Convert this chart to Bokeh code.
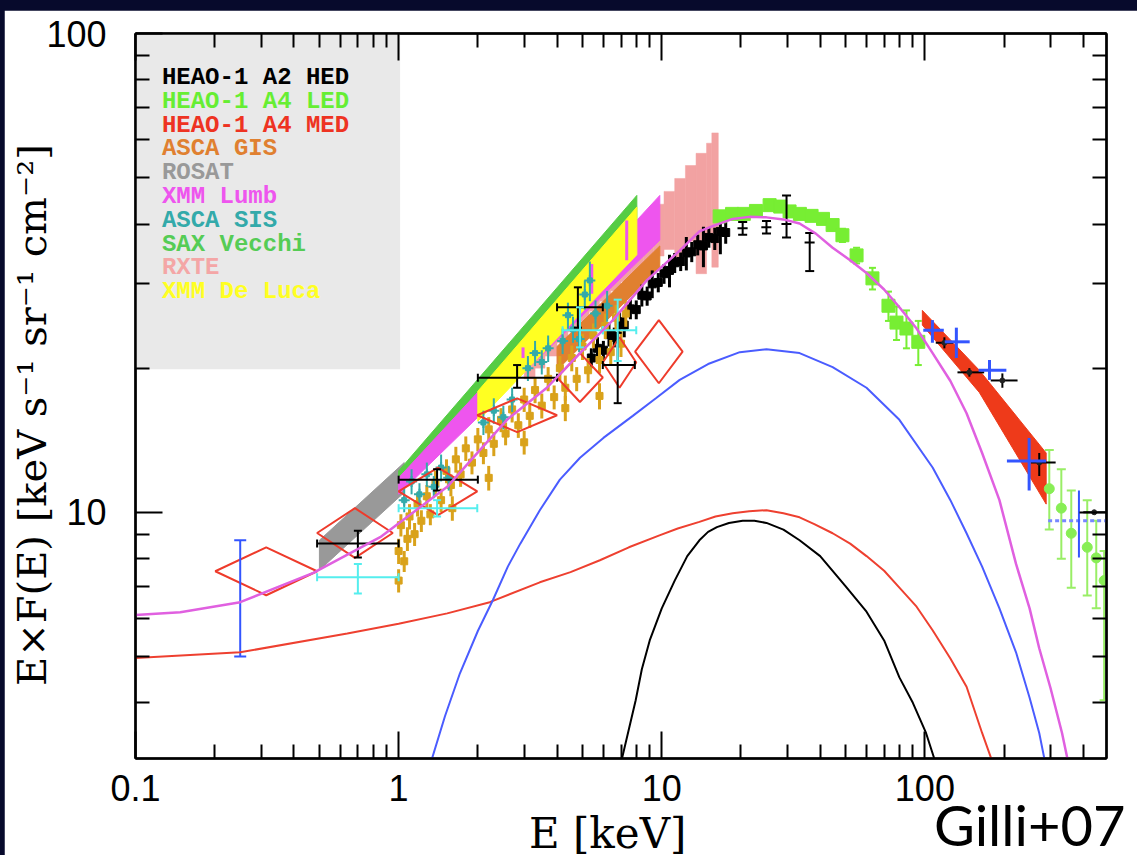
import numpy as np
from bokeh.plotting import figure
from bokeh.layouts import column
from bokeh.models import FixedTicker, LogAxis, CustomJSTickFormatter, BoxAnnotation, Div
from bokeh.core.properties import value
from bokeh.embed import file_html
from bokeh.resources import INLINE

# ---------------- model components (E in keV, E*F(E) in keV s^-1 sr^-1 cm^-2) ----------------
total_E = [0.1, 0.148, 0.25, 0.474, 0.851, 1.53, 2.04, 2.58, 3.66, 4.89, 6.52, 8.77, 11.7, 13.9,
           15.6, 18.6, 21.5, 25.0, 29.0, 33.4, 38.5, 44.6, 52.0, 60.0, 70.0, 80.0, 93.0, 107.0,
           125.0, 144.0, 165.0, 192.0, 222.0, 250.0, 272.0, 300.0, 332.0, 360.0]
total_F = [6.1, 6.18, 6.49, 7.47, 8.87, 11.3, 13.5, 15.6, 18.2, 21.5, 25.2, 30.5, 35.2, 38.6,
           39.6, 41.0, 41.4, 41.3, 40.9, 40.1, 38.2, 35.7, 33.6, 31.6, 29.2, 26.8, 24.2, 21.5,
           18.8, 16.1, 13.3, 10.6, 7.8, 6.3, 5.2, 4.3, 3.46, 2.8]

thin_E = [1.3, 1.5, 1.71, 2.0, 2.28, 2.6, 2.9, 3.44, 4.1, 4.89, 6.0, 7.76, 9.5, 11.7, 15.0, 19.8,
          25.0, 33.4, 44.6, 60.0, 80.0, 107.0, 125.0, 144.0, 165.0, 192.0, 222.0, 250.0, 272.0, 290.0]
thin_F = [2.9, 3.75, 4.61, 5.65, 6.55, 7.7, 8.6, 10.1, 11.7, 13.0, 14.3, 15.9, 17.3, 18.9, 20.4,
          21.6, 21.9, 21.5, 20.1, 18.2, 15.6, 12.4, 10.6, 9.04, 7.7, 6.3, 5.1, 4.1, 3.46, 2.9]

thick_E = [0.1, 0.25, 0.638, 1.0, 1.53, 2.22, 3.44, 4.5, 5.82, 7.5, 9.8, 11.5, 13.9, 16.0, 18.6,
           21.5, 25.0, 29.0, 33.4, 38.0, 44.6, 52.0, 60.0, 70.0, 80.0, 93.0, 107.0, 125.0, 144.0,
           165.0, 185.0]
thick_F = [4.96, 5.1, 5.58, 5.85, 6.15, 6.49, 7.14, 7.5, 7.94, 8.45, 8.95, 9.25, 9.55, 9.8, 9.95,
           10.05, 10.1, 9.95, 9.76, 9.45, 9.04, 8.6, 8.1, 7.55, 6.96, 6.35, 5.67, 4.95, 4.32,
           3.46, 2.9]

refl_E = [6.9, 7.96, 8.4, 9.0, 10.0, 11.2, 12.5, 13.9, 15.0, 16.2, 18.0, 20.3, 22.5, 25.0, 29.0,
          33.4, 40.0, 50.0, 60.0, 70.0, 80.0, 90.0, 101.0, 112.0]
refl_F = [2.9, 4.05, 4.7, 5.4, 6.3, 7.2, 8.1, 8.74, 9.1, 9.31, 9.5, 9.6, 9.6, 9.5, 9.2, 8.74,
          8.1, 7.0, 6.2, 5.4, 4.52, 4.0, 3.46, 2.9]

# ---------------- power-law bands ----------------
rosat_E, rosat_top, rosat_bot = [0.5, 1.05], [8.74, 12.7], [7.57, 11.0]
sax_E, sax_top, sax_bot = [1.0, 8.04], [12.2, 45.9], [10.9, 40.0]
lumb_E, lumb_top, lumb_bot = [1.0, 9.83], [11.8, 45.9], [10.9, 37.0]
deluca_E, deluca_top, deluca_bot = [2.0, 8.04], [17.9, 43.4], [15.5, 34.5]
gis_E, gis_top, gis_bot = [4.0, 9.83], [22.2, 36.0], [19.8, 32.5]

# RXTE binned spectrum
rxte_lo = [3.0, 3.3, 3.6, 4.0, 4.4, 4.8, 5.3, 5.8, 6.4, 7.0, 7.7, 8.5, 9.3, 10.2, 11.2, 12.3, 13.5, 14.8, 15.5]
rxte_hi = [3.3, 3.6, 4.0, 4.4, 4.8, 5.3, 5.8, 6.4, 7.0, 7.7, 8.5, 9.3, 10.2, 11.2, 12.3, 13.5, 14.8, 15.5, 16.4]
rxte_top = [20.9, 22.2, 23.6, 25.3, 26.8, 28.5, 30.4, 32.3, 34.4, 36.5, 39.0, 41.5, 44.0, 46.8, 49.8, 53.0, 56.2, 59.0, 62.0]
rxte_bot = [19.0, 20.0, 21.2, 22.6, 23.8, 25.0, 26.3, 27.6, 29.0, 30.3, 31.6, 33.0, 34.3, 35.4, 34.0, 36.8, 31.5, 37.8, 32.5]

# XMM Lumb individual error bars
lumbpt_E = [2.97, 5.42, 7.36]
lumbpt_lo = [21.0, 28.6, 33.6]
lumbpt_hi = [22.1, 33.0, 40.7]

# HEAO-1 A2 HED
hed_E = [5.4, 5.7, 6.0, 6.3, 6.6, 6.9, 7.2, 7.6, 8.0, 8.4, 8.8, 9.2, 9.7, 10.2, 10.7, 11.2, 11.8,
         12.4, 13.0, 13.7, 14.4, 15.1, 15.9, 16.7, 17.5]
hed_F = [21.0, 22.0, 21.8, 23.5, 23.2, 25.0, 24.6, 26.6, 26.5, 28.4, 28.3, 30.0, 30.2, 31.5, 32.0,
         33.2, 33.4, 34.8, 35.0, 36.2, 36.0, 37.5, 37.3, 38.6, 38.4]
hed_dF = [1.0, 1.2, 1.0, 1.3, 1.1, 1.2, 1.4, 1.3, 1.2, 1.5, 1.3, 2.0, 1.4, 1.5, 2.5, 1.6, 1.5, 2.8,
          1.7, 1.8, 3.5, 1.8, 2.0, 4.0, 2.0]
hedpk_E = [20.3, 25.0, 29.8, 36.5]
hedpk_F = [39.2, 39.4, 40.0, 36.6]
hedpk_lo = [38.0, 38.2, 37.5, 31.9]
hedpk_hi = [40.4, 40.6, 45.9, 38.3]
hedpk_Elo = [19.4, 23.9, 28.5, 34.9]
hedpk_Ehi = [21.2, 26.1, 31.1, 38.1]

# soft-band points
gold_E = [1.00, 1.00, 1.02, 1.05, 1.08, 1.10, 1.15, 1.18, 1.22, 1.28, 1.32, 1.38, 1.45, 1.52, 1.58,
          1.65, 1.72, 1.80, 1.90, 2.00, 2.10, 2.20, 2.30, 2.45, 2.55, 2.70, 2.85, 3.00, 3.15, 3.30,
          3.50, 3.70, 3.90, 4.10, 4.30, 4.55, 4.75, 5.00, 5.25, 5.50, 5.80, 6.10, 6.40, 6.70, 7.00,
          7.30, 1.60, 2.20, 3.00, 4.30, 5.80]
gold_F = [7.2, 8.3, 9.4, 7.9, 8.8, 9.8, 9.0, 10.4, 9.6, 10.8, 9.9, 11.5, 10.6, 12.2, 11.4, 12.9,
          12.0, 13.6, 12.7, 14.2, 13.3, 14.9, 13.9, 15.6, 14.6, 16.4, 15.2, 17.2, 15.9, 18.0, 16.7,
          19.0, 17.4, 20.0, 18.2, 21.0, 19.0, 22.2, 19.8, 23.4, 20.8, 24.5, 21.6, 25.5, 22.5, 26.0,
          10.2, 11.8, 14.0, 16.5, 17.5]
gold_dF = [0.4, 0.5, 0.5, 0.4, 0.5, 0.6, 0.5, 0.6, 0.5, 0.6, 0.5, 0.7, 0.6, 0.7, 0.6, 0.8, 0.7,
           0.8, 0.7, 0.8, 0.7, 0.9, 0.8, 0.9, 0.8, 1.0, 0.9, 1.0, 0.9, 1.1, 1.0, 1.1, 1.0, 1.2,
           1.1, 1.3, 1.1, 1.4, 1.2, 1.4, 1.3, 1.5, 1.3, 1.6, 1.4, 1.6, 0.6, 0.7, 0.8, 1.0, 1.1]

sis_E = [1.05, 1.12, 1.20, 1.28, 1.36, 1.45, 1.55, 2.10, 2.30, 2.50, 2.70, 3.10, 3.30, 3.50, 3.70,
         4.20, 4.40, 4.60, 4.85, 5.10, 5.33, 5.60, 6.20]
sis_F = [10.6, 11.6, 10.9, 12.0, 11.3, 12.4, 11.8, 15.4, 16.3, 15.8, 17.2, 20.0, 21.5, 20.6, 22.0,
         22.8, 25.8, 24.1, 23.0, 28.5, 30.5, 26.0, 27.0]
sis_dF = [0.6, 0.7, 0.6, 0.7, 0.6, 0.8, 0.7, 0.9, 1.0, 0.9, 1.0, 1.2, 1.3, 1.2, 1.4, 1.4, 1.6,
          1.5, 1.4, 2.0, 2.9, 1.7, 2.0]

# band-averaged measurements (diamonds)
box_Elo = [0.201, 0.49, 1.0, 1.99, 4.0, 5.97, 7.92]
box_Ehi = [0.49, 0.95, 1.99, 4.0, 5.97, 8.0, 12.0]
box_Flo = [6.71, 8.03, 9.86, 14.7, 17.0, 18.2, 18.6]
box_Fhi = [8.45, 10.2, 12.4, 17.3, 21.5, 23.2, 25.2]

# crosses: black
bx_E = [0.70, 1.40, 2.82, 4.8, 6.8]
bx_F = [8.61, 11.7, 19.1, 26.8, 20.3]
bx_Elo = [0.49, 1.0, 2.0, 4.0, 5.97]
bx_Ehi = [1.0, 2.0, 4.0, 5.97, 7.9]
bx_Flo = [8.05, 11.1, 18.2, 24.3, 16.9]
bx_Fhi = [9.15, 12.3, 20.3, 29.5, 23.7]

# crosses: cyan
cx_E = [0.70, 1.40, 4.89, 6.8]
cx_F = [7.32, 10.2, 24.0, 24.0]
cx_Elo = [0.49, 1.0, 4.2, 5.97]
cx_Ehi = [1.0, 1.99, 5.97, 8.0]
cx_Flo = [6.77, 9.8, 22.1, 20.7]
cx_Fhi = [7.8, 10.6, 26.8, 27.8]

# soft X-ray background bar
sxb_E, sxb_lo, sxb_hi = [0.25], [5.0], [8.74]

# HEAO-1 A4 LED
led_E = [16.6, 18.5, 20.5, 22.8, 25.7, 28.2, 30.6, 33.5, 37.1, 41.0, 44.6, 48.6, 55.0, 63.2,
         72.7, 78.0, 85.1, 94.4]
led_F = [41.5, 42.0, 42.0, 42.6, 43.8, 43.5, 42.5, 42.0, 41.6, 41.0, 39.8, 37.9, 34.4, 30.8,
         27.0, 24.9, 24.2, 22.7]
led_dF = [0.8, 0.8, 0.8, 0.8, 0.9, 0.9, 0.9, 0.9, 0.9, 1.0, 1.0, 1.2, 1.3, 1.6, 1.9, 2.0, 2.2, 2.4]

# HEAO-1 A4 MED butterfly
med_E = [97.8, 161.0, 289.0]
med_top = [26.4, 19.8, 13.3]
med_bot = [24.6, 17.8, 10.4]

# hard X-ray points
hb_E = [106.8, 131.7, 176.0, 249.0]
hb_F = [24.0, 22.7, 19.8, 12.8]
hb_Elo = [98.6, 119.0, 160.0, 205.0]
hb_Ehi = [118.0, 148.0, 204.0, 289.0]
hb_Flo = [22.6, 21.0, 18.9, 11.1]
hb_Fhi = [25.2, 24.3, 20.8, 14.3]
hb2_E, hb2_F, hb2_Elo, hb2_Ehi, hb2_Flo, hb2_Fhi = [385.0], [9.6], [294.0], [490.0], [8.05], [11.1]

hk_E = [118.6, 147.6, 197.0, 272.0, 440.0]
hk_F = [22.6, 19.6, 18.85, 12.7, 10.0]
hk_Elo = [110.0, 133.0, 178.0, 253.0, 400.0]
hk_Ehi = [128.0, 168.0, 225.0, 314.0, 490.0]
hk_Flo = [22.0, 19.2, 18.2, 11.9, 9.9]
hk_Fhi = [23.2, 20.0, 19.5, 13.3, 10.1]

hg_E = [297.0, 330.0, 360.0, 414.0, 448.0, 480.0]
hg_F = [11.2, 10.2, 9.04, 8.45, 8.03, 7.2]
hg_Flo = [9.2, 8.0, 6.96, 6.7, 6.3, 4.05]
hg_Fhi = [13.5, 12.3, 11.1, 10.6, 9.6, 8.3]

legend_names = ["HEAO-1 A2 HED", "HEAO-1 A4 LED", "HEAO-1 A4 MED", "ASCA GIS", "ROSAT",
                "XMM Lumb", "ASCA SIS", "SAX Vecchi", "RXTE", "XMM De Luca"]
legend_colors = ["#000000", "#66ee33", "#ee3322", "#e08030", "#999999",
                 "#ee55ee", "#33aaaa", "#55cc55", "#f4a6a6", "#ffff22"]

x_major = [0.1, 1, 10, 100]
y_major = [10, 100]

# ---------------- figure ----------------
p = figure(width=1133, height=850, x_axis_type="log", y_axis_type="log",
           x_range=(0.1, 490), y_range=(3.06, 100),
           output_backend="svg", toolbar_location=None,
           min_border_left=131, min_border_right=31, min_border_top=23, min_border_bottom=102,
           border_fill_color="white", background_fill_color="white",
           outline_line_color="black", outline_line_width=2)
p.margin = (10, 0, 0, 4)
p.grid.visible = False

x_minor = [m * d for d in (0.1, 1, 10, 100) for m in range(2, 10) if m * d < 490]
y_minor = [m * d for d in (1, 10) for m in range(2, 10) if m * d > 3.06]
fmt = CustomJSTickFormatter(code="return String(tick);")


def style_axis(ax, labels):
    ax.major_tick_in = 27
    ax.major_tick_out = 0
    ax.minor_tick_in = 14
    ax.minor_tick_out = 0
    ax.major_tick_line_width = 2
    ax.minor_tick_line_width = 2
    ax.axis_line_width = 2.5
    ax.axis_line_color = "black"
    if labels:
        ax.major_label_text_font = "Liberation Sans"
        ax.major_label_text_font_size = "36px"
        ax.major_label_text_color = "black"
        ax.formatter = fmt
        ax.axis_label_text_font = "DejaVu Serif"
        ax.axis_label_text_font_style = "normal"
        ax.axis_label_text_color = "black"
    else:
        ax.major_label_text_font_size = "10px"
        ax.major_label_text_alpha = 0
        ax.major_label_standoff = 2


xa = p.xaxis[0]
ya = p.yaxis[0]
xa.ticker = FixedTicker(ticks=x_major, minor_ticks=x_minor)
ya.ticker = FixedTicker(ticks=y_major, minor_ticks=y_minor)
style_axis(xa, True)
style_axis(ya, True)
xa.major_label_standoff = 16
ya.major_label_standoff = 29
xa.axis_label = "E [keV]\u00a0\u00a0"
ya.axis_label = "E\u00d7F(E) [keV s\u207b\u00b9 sr\u207b\u00b9 cm\u207b\u00b2]\u00a0\u00a0\u00a0"
xa.axis_label_text_font_size = "42px"
ya.axis_label_text_font_size = "40px"
xa.axis_label_standoff = 5
ya.axis_label_standoff = -12

top = LogAxis(ticker=FixedTicker(ticks=x_major, minor_ticks=x_minor))
style_axis(top, False)
p.add_layout(top, "above")
right = LogAxis(ticker=FixedTicker(ticks=y_major, minor_ticks=y_minor))
style_axis(right, False)
p.add_layout(right, "right")

# legend panel
p.add_layout(BoxAnnotation(left=0.1, right=1.013, bottom=19.9, top=100,
                           fill_color="#e9e9e9", fill_alpha=1, line_color=None, level="underlay"))


def band(E, top_, bot_, color):
    p.patch(x=E + E[::-1], y=top_ + bot_[::-1], fill_color=color, line_color=color, line_width=1)


def vbars(E, lo, hi, color, lw=2, cap=0, dash="solid"):
    p.segment(x0=E, y0=lo, x1=E, y1=hi, line_color=color, line_width=lw, line_dash=dash)
    if cap:
        p.scatter(x=E + E, y=lo + hi, marker="dash", size=cap, line_color=color, line_width=lw)


def hbars(lo, hi, F, color, lw=2, cap=0, dash="solid"):
    p.segment(x0=lo, y0=F, x1=hi, y1=F, line_color=color, line_width=lw, line_dash=dash)
    if cap:
        p.scatter(x=lo + hi, y=F + F, marker="dash", angle=np.pi / 2, size=cap,
                  line_color=color, line_width=lw)


# bands
band(rosat_E, rosat_top, rosat_bot, "#999999")
band(sax_E, sax_top, sax_bot, "#55cc44")
p.quad(left=rxte_lo, right=rxte_hi, bottom=rxte_bot, top=rxte_top,
       fill_color="#f2a2a2", line_color="#f2a2a2", line_width=0.5)
band(lumb_E, lumb_top, lumb_bot, "#ee55ee")
band(deluca_E, deluca_top, deluca_bot, "#ffff22")
band(gis_E, gis_top, gis_bot, "#e08030")
vbars(lumbpt_E, lumbpt_lo, lumbpt_hi, "#ee55ee", lw=3)

# HEAO-1 A2 HED
hed_lo = [f - d for f, d in zip(hed_F, hed_dF)]
hed_hi = [f + d for f, d in zip(hed_F, hed_dF)]
vbars(hed_E, hed_lo, hed_hi, "black", lw=3)
p.scatter(hed_E, hed_F, marker="square", size=8, color="black")

# soft-band points
gold_lo = [f - d for f, d in zip(gold_F, gold_dF)]
gold_hi = [f + d for f, d in zip(gold_F, gold_dF)]
vbars(gold_E, gold_lo, gold_hi, "#d9a21b", lw=3)
p.scatter(gold_E, gold_F, marker="square", size=7, color="#d9a21b")

sis_lo = [f - d for f, d in zip(sis_F, sis_dF)]
sis_hi = [f + d for f, d in zip(sis_F, sis_dF)]
vbars(sis_E, sis_lo, sis_hi, "#33aaaa", lw=2)
p.scatter(sis_E, sis_F, marker="cross", size=11, line_color="#33aaaa", line_width=2)
p.scatter(sis_E, sis_F, marker="square", size=5, color="#33aaaa")

# diamonds
bxc = np.sqrt(np.array(box_Elo) * np.array(box_Ehi))
byc = np.sqrt(np.array(box_Flo) * np.array(box_Fhi))
dxs = [[lo, c, hi, c] for lo, c, hi in zip(box_Elo, bxc, box_Ehi)]
dys = [[c, t, c, b] for c, t, b in zip(byc, box_Fhi, box_Flo)]
p.patches(dxs, dys, fill_alpha=0, line_color="#ee3b2b", line_width=2)

# crosses
hbars(bx_Elo, bx_Ehi, bx_F, "black", lw=2, cap=8)
vbars(bx_E, bx_Flo, bx_Fhi, "black", lw=2, cap=8)
hbars(cx_Elo, cx_Ehi, cx_F, "#55eeee", lw=2, cap=8)
vbars(cx_E, cx_Flo, cx_Fhi, "#55eeee", lw=2, cap=8)
vbars(sxb_E, sxb_lo, sxb_hi, "#3355ff", lw=2, cap=12)

# HEAO-1 A4 LED
led_lo = [f - d for f, d in zip(led_F, led_dF)]
led_hi = [f + d for f, d in zip(led_F, led_dF)]
vbars(led_E, led_lo, led_hi, "#77ee33", lw=2, cap=7)
p.scatter(led_E, led_F, marker="square", size=13, color="#77ee33")

# HEAO-1 A2 HED high-energy points
hbars(hedpk_Elo, hedpk_Ehi, hedpk_F, "black", lw=2)
vbars(hedpk_E, hedpk_lo, hedpk_hi, "black", lw=2, cap=9)

# HEAO-1 A4 MED
band(med_E, med_top, med_bot, "#ee3a1a")

# hard X-ray points
vbars(hg_E, hg_Flo, hg_Fhi, "#99ee66", lw=2, cap=9)
p.scatter(hg_E, hg_F, marker="circle", size=10, color="#88ee55")
hbars(hk_Elo, hk_Ehi, hk_F, "black", lw=2)
vbars(hk_E, hk_Flo, hk_Fhi, "black", lw=2)
p.scatter(hk_E, hk_F, marker="circle", size=5, color="#222222")
hbars(hb_Elo, hb_Ehi, hb_F, "#3355ff", lw=3)
vbars(hb_E, hb_Flo, hb_Fhi, "#3355ff", lw=3)
hbars(hb2_Elo, hb2_Ehi, hb2_F, "#7788ff", lw=3, dash="4 3")
vbars(hb2_E, hb2_Flo, hb2_Fhi, "#3355ff", lw=2)

# model curves
p.line(refl_E, refl_F, line_color="black", line_width=2)
p.line(thick_E, thick_F, line_color="#ee4030", line_width=2)
p.line(thin_E, thin_F, line_color="#4a5cff", line_width=2)
p.line(total_E, total_F, line_color="#e060e0", line_width=2.5)

# legend text
legend_x = [0.126] * len(legend_names)
legend_y = [10 ** (2 - (44 + 23.8 * i) / 479) for i in range(len(legend_names))]
p.text(x=legend_x, y=legend_y, text=legend_names, text_color=legend_colors,
       text_font=value("Liberation Mono"), text_font_style="bold", text_font_size="24px",
       text_baseline="middle", text_align="left")

# citation in the lower right corner of the page
credit = Div(text="Gilli+07", width=200, height=60, margin=(-65, 0, 0, 934),
             styles={"font-family": "Lato", "font-size": "56px", "line-height": "60px",
                     "color": "black", "position": "relative", "z-index": "5",
                     "white-space": "nowrap"})

page = column(p, credit, styles={"background-color": "#070a2c"})
open("out.html", "w").write(file_html(page, INLINE))
